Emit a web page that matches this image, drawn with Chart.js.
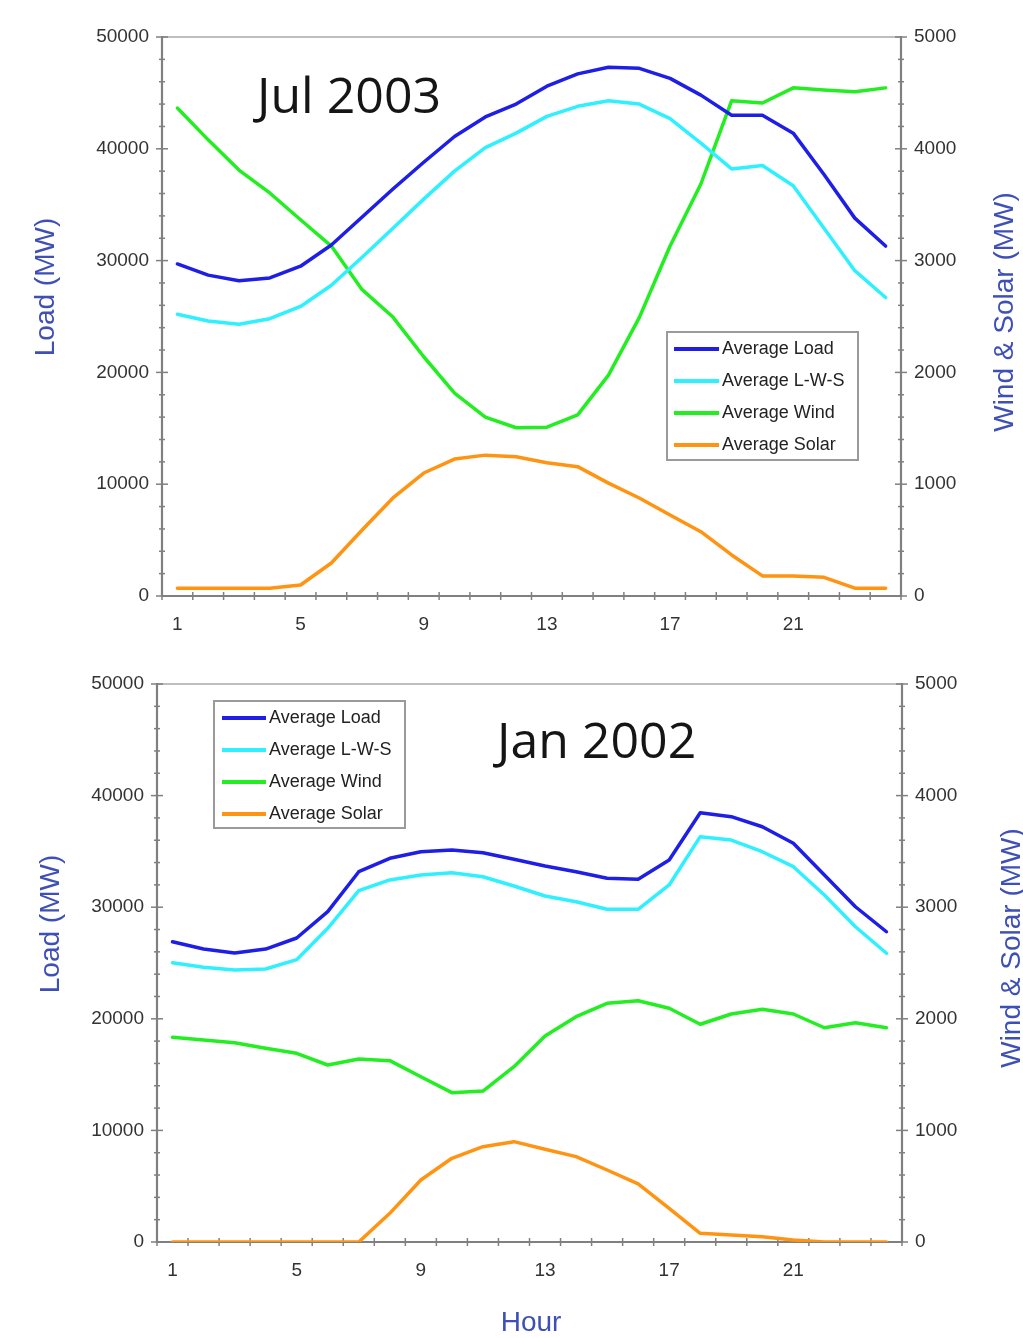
<!DOCTYPE html>
<html>
<head>
<meta charset="utf-8">
<script src="https://cdn.jsdelivr.net/npm/chart.js@4.4.1/dist/chart.umd.min.js"></script>
<style>
  html,body{margin:0;padding:0;background:#fff;}
  .box{position:absolute;left:0;width:1023px;}
</style>
</head>
<body>
<div class="box" style="top:0;height:650px"><canvas id="c1"></canvas></div>
<div class="box" style="top:650px;height:688px"><canvas id="c2"></canvas></div>
<script>
// ---------- DATA ----------
const hours = ['1','2','3','4','5','6','7','8','9','10','11','12','13','14','15','16','17','18','19','20','21','22','23','24'];
const seriesNames = ['Average Load','Average L-W-S','Average Wind','Average Solar'];

// Jul 2003
const julLoad  = [29700,28700,28200,28450,29500,31400,33900,36400,38800,41100,42850,44000,45600,46700,47300,47200,46300,44800,43000,43000,41400,37700,33800,31300];
const julLWS   = [25200,24600,24300,24800,25900,27800,30300,32900,35500,38000,40100,41400,42900,43800,44300,44000,42700,40500,38200,38500,36700,32900,29100,26700];
const julWind  = [4365,4080,3810,3605,3365,3130,2740,2495,2140,1815,1600,1505,1510,1620,1975,2490,3130,3685,4430,4410,4545,4525,4510,4545];
const julSolar = [70,70,70,70,98,295,590,877,1100,1225,1260,1246,1192,1157,1010,877,725,575,367,180,179,167,70,70];

// Jan 2002
const janLoad  = [26900,26250,25900,26250,27240,29600,33180,34380,34970,35130,34880,34290,33690,33180,32590,32500,34230,38470,38110,37210,35730,32890,30040,27800];
const janLWS   = [25030,24610,24370,24460,25300,28110,31480,32440,32890,33090,32730,31900,31000,30490,29810,29810,31990,36320,36020,34970,33630,31090,28250,25870];
const janWind  = [1834,1810,1786,1736,1691,1586,1640,1625,1481,1338,1353,1571,1846,2019,2139,2162,2094,1951,2043,2085,2043,1920,1965,1920];
const janSolar = [0,0,0,0,0,0,0,257,556,750,854,899,831,765,645,520,302,78,63,48,18,0,0,0];

// axis ranges / ticks
const loadMax = 50000, loadStep = 2000, loadMajor = 10000;
const wsMax = 5000, wsStep = 200, wsMajor = 1000;
const xLabelEvery = 4;

// ---------- STYLE ----------
const colors = ['#1e1ee6','#2ff0ff','#22ee22','#ff9412'];
const titleBlue = '#3e50b6';
const tickFont = {family:'"Liberation Sans", Arial, sans-serif', size:19};
const tickColor = '#333';

const decor = {
  id:'decor',
  beforeDatasetsDraw(chart, args, o){
    const {ctx, chartArea:a, scales} = chart;
    const ln=(x1,y1,x2,y2)=>{ctx.beginPath();ctx.moveTo(x1,y1);ctx.lineTo(x2,y2);ctx.stroke();};
    ctx.save();
    ctx.strokeStyle='#a8a8a8'; ctx.lineWidth=1.5;
    ln(a.left,a.top,a.right,a.top);
    ctx.strokeStyle='#808080'; ctx.lineWidth=2.2;
    ln(a.left,a.top-1,a.left,a.bottom+1);
    ln(a.right,a.top-1,a.right,a.bottom+1);
    ln(a.left-1,a.bottom,a.right+1,a.bottom);
    ctx.lineWidth=1.5;
    scales.y.ticks.forEach(t=>{
      const y=scales.y.getPixelForValue(t.value);
      const L=(t.value%loadMajor===0)?6:3;
      ln(a.left-L,y,a.left+L,y);
    });
    scales.y2.ticks.forEach(t=>{
      const y=scales.y2.getPixelForValue(t.value);
      const L=(t.value%wsMajor===0)?6:3;
      ln(a.right-L,y,a.right+L,y);
    });
    const xs=scales.x, n=hours.length;
    const step=xs.getPixelForValue(1)-xs.getPixelForValue(0);
    for(let i=0;i<=n;i++){
      const x=xs.getPixelForValue(0)-step/2+i*step;
      ln(x,a.bottom-4,x,a.bottom+4);
    }
    ctx.restore();
  },
  afterDraw(chart, args, o){
    const {ctx} = chart;
    ctx.save();
    // chart title
    ctx.fillStyle='#151515';
    ctx.font='50px "Open Sans", sans-serif';
    ctx.textAlign='left'; ctx.textBaseline='alphabetic';
    ctx.fillText(o.title, o.titleX, o.titleY);
    // axis titles
    ctx.fillStyle=titleBlue;
    ctx.font='28px "Liberation Sans", Arial, sans-serif';
    ctx.textAlign='center'; ctx.textBaseline='middle';
    const rot=(txt,x,y)=>{ctx.save();ctx.translate(x,y);ctx.rotate(-Math.PI/2);ctx.fillText(txt,0,0);ctx.restore();};
    rot('Load (MW)', o.leftTitleX, o.leftTitleY);
    rot('Wind & Solar (MW)', o.rightTitleX, o.rightTitleY);
    if(o.xTitle){ ctx.fillText(o.xTitle, o.xTitleX, o.xTitleY); }
    // legend
    const L=o.legend;
    ctx.fillStyle='#fff'; ctx.fillRect(L.x,L.y,L.w,L.h);
    ctx.strokeStyle='#9a9a9a'; ctx.lineWidth=2; ctx.strokeRect(L.x,L.y,L.w,L.h);
    ctx.font='18px "Liberation Sans", Arial, sans-serif';
    ctx.textAlign='left'; ctx.textBaseline='middle';
    chart.data.datasets.forEach((ds,i)=>{
      const y=L.y+L.row0+i*L.rowH;
      ctx.strokeStyle=ds.borderColor; ctx.lineWidth=4;
      ctx.beginPath(); ctx.moveTo(L.x+L.lx0,y); ctx.lineTo(L.x+L.lx1,y); ctx.stroke();
      ctx.fillStyle='#222';
      ctx.fillText(ds.label, L.x+L.tx, y);
    });
    ctx.restore();
  }
};

function makeChart(id, load, lws, wind, solar, cfg){
  const mk=(lbl,d,c,axis)=>({label:lbl,data:d,borderColor:c,backgroundColor:c,yAxisID:axis,
    borderWidth:3.5,pointRadius:0,tension:0,fill:false,borderJoinStyle:'round',borderCapStyle:'round'});
  return new Chart(document.getElementById(id),{
    type:'line',
    data:{labels:hours,datasets:[
      mk(seriesNames[0],load,colors[0],'y'),
      mk(seriesNames[1],lws,colors[1],'y'),
      mk(seriesNames[2],wind,colors[2],'y2'),
      mk(seriesNames[3],solar,colors[3],'y2')
    ]},
    options:{
      responsive:true, maintainAspectRatio:false, animation:false,
      layout:{padding:{top:cfg.top,bottom:0,left:0,right:0}},
      plugins:{legend:{display:false},tooltip:{enabled:false},decor:cfg.decor},
      scales:{
        x:{type:'category',offset:true,
          grid:{display:false,drawTicks:false},border:{display:false},
          ticks:{autoSkip:false,maxRotation:0,minRotation:0,padding:cfg.xPad,font:tickFont,color:tickColor,
            callback:(v,i)=> i%xLabelEvery===0 ? hours[i] : ''},
          afterFit:s=>{s.height=cfg.xH;}},
        y:{position:'left',min:0,max:loadMax,
          grid:{display:false,drawTicks:false},border:{display:false},
          ticks:{stepSize:loadStep,autoSkip:false,padding:13,font:tickFont,color:tickColor,
            callback:v=> v%loadMajor===0 ? String(v) : ''},
          afterFit:s=>{s.width=cfg.yW;}},
        y2:{position:'right',min:0,max:wsMax,
          grid:{display:false,drawTicks:false},border:{display:false},
          ticks:{stepSize:wsStep,autoSkip:false,padding:13,font:tickFont,color:tickColor,
            callback:v=> v%wsMajor===0 ? String(v) : ''},
          afterFit:s=>{s.width=cfg.y2W;}}
      }
    },
    plugins:[decor]
  });
}

makeChart('c1', julLoad, julLWS, julWind, julSolar, {
  top:37, xH:54, yW:162, y2W:122, xPad:17,
  decor:{title:'Jul 2003', titleX:257, titleY:113,
    leftTitleX:46, leftTitleY:287, rightTitleX:1005, rightTitleY:312,
    legend:{x:667,y:332,w:191,h:128,row0:17,rowH:32,lx0:7,lx1:52,tx:55}}
});
makeChart('c2', janLoad, janLWS, janWind, janSolar, {
  top:34, xH:96, yW:157, y2W:121, xPad:17,
  decor:{title:'Jan 2002', titleX:497, titleY:108,
    leftTitleX:51, leftTitleY:274, rightTitleX:1012, rightTitleY:298,
    xTitle:'Hour', xTitleX:531, xTitleY:673,
    legend:{x:214,y:51,w:191,h:127,row0:17,rowH:32,lx0:8,lx1:52,tx:55}}
});
</script>
</body>
</html>
